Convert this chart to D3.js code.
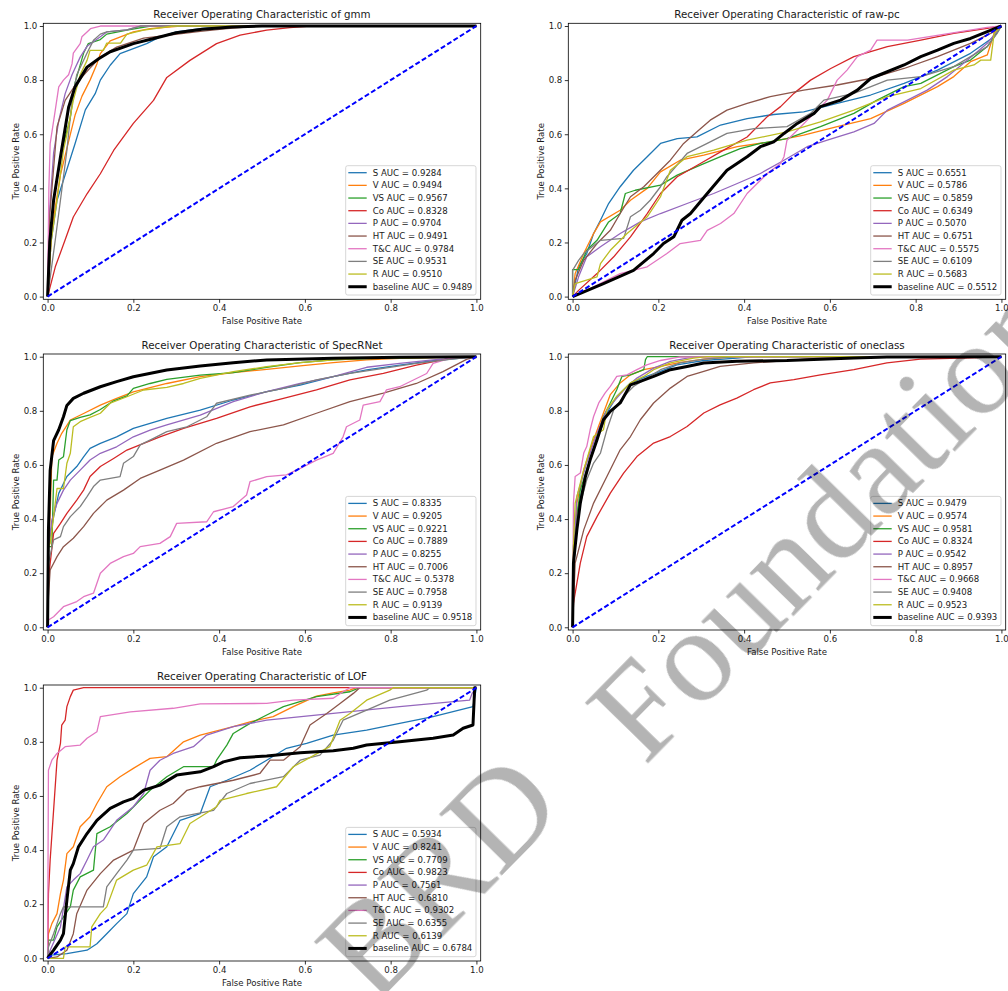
<!doctype html>
<html lang="en">
<head>
  <meta charset="utf-8">
  <title>ROC curves</title>
  <script src="https://cdnjs.cloudflare.com/ajax/libs/d3/7.8.5/d3.min.js"></script>
  <style>
    body{margin:0;background:#fff}
    svg text{font-family:"DejaVu Sans",sans-serif;fill:#1a1a1a}
    .wm text{font-family:"Liberation Serif",serif;fill:#b4b4b4}
  </style>
</head>
<body>
<svg id="fig" width="1008" height="991"></svg>
<script>
// ---- data ----
var classes = ["S", "V", "VS", "Co", "P", "HT", "T&C", "SE", "R", "baseline"];
var colors = ["#1f77b4", "#ff7f0e", "#2ca02c", "#d62728", "#9467bd", "#8c564b", "#e377c2", "#7f7f7f", "#bcbd22", "#000000"];
var models = ["gmm", "raw-pc", "SpecRNet", "oneclass", "LOF"];
var ticks = [0, 0.2, 0.4, 0.6, 0.8, 1.0];
var diagonal = [[0, 0], [1, 1]];

var aucGmm = ["0.9284", "0.9494", "0.9567", "0.8328", "0.9704", "0.9491", "0.9784", "0.9531", "0.9510", "0.9489"];
var aucRawpc = ["0.6551", "0.5786", "0.5859", "0.6349", "0.5070", "0.6751", "0.5575", "0.6109", "0.5683", "0.5512"];
var aucSpec = ["0.8335", "0.9205", "0.9221", "0.7889", "0.8255", "0.7006", "0.5378", "0.7958", "0.9139", "0.9518"];
var aucOneclass = ["0.9479", "0.9574", "0.9581", "0.8324", "0.9542", "0.8957", "0.9668", "0.9408", "0.9523", "0.9393"];
var aucLof = ["0.5934", "0.8241", "0.7709", "0.9823", "0.7561", "0.6810", "0.9302", "0.6355", "0.6139", "0.6784"];

// [fpr, tpr] per class, same order as classes
var rocGmm = [
  [[0,0],[0.008,0.2],[0.022,0.356],[0.049,0.49],[0.064,0.565],[0.088,0.69],[0.111,0.75],[0.123,0.8],[0.146,0.855],[0.169,0.898],[0.231,0.935],[0.262,0.96],[0.3,0.978],[0.356,0.99],[0.433,1],[1,1]],
  [[0,0],[0.01,0.25],[0.03,0.45],[0.05,0.58],[0.064,0.67],[0.08,0.74],[0.099,0.8],[0.115,0.86],[0.123,0.898],[0.146,0.945],[0.17,0.96],[0.2,0.978],[0.239,0.99],[0.31,1],[1,1]],
  [[0,0],[0.005,0.2],[0.014,0.356],[0.033,0.54],[0.053,0.66],[0.064,0.79],[0.084,0.9],[0.095,0.935],[0.123,0.95],[0.138,0.97],[0.185,0.985],[0.24,1],[1,1]],
  [[0,0],[0.018,0.11],[0.041,0.21],[0.06,0.294],[0.092,0.38],[0.123,0.454],[0.154,0.54],[0.2,0.64],[0.247,0.725],[0.278,0.81],[0.332,0.873],[0.394,0.935],[0.449,0.966],[0.511,0.985],[0.565,0.994],[0.612,1],[1,1]],
  [[0,0],[0.004,0.3],[0.014,0.53],[0.026,0.65],[0.041,0.75],[0.057,0.82],[0.076,0.885],[0.092,0.925],[0.123,0.96],[0.138,0.978],[0.185,0.986],[0.216,1],[1,1]],
  [[0,0],[0.005,0.3],[0.022,0.627],[0.041,0.725],[0.068,0.79],[0.099,0.845],[0.123,0.885],[0.161,0.922],[0.224,0.955],[0.293,0.968],[0.356,0.98],[0.418,0.99],[0.495,1],[1,1]],
  [[0,0],[0.003,0.4],[0.006,0.565],[0.018,0.69],[0.026,0.775],[0.037,0.8],[0.049,0.82],[0.057,0.86],[0.06,0.9],[0.076,0.935],[0.08,0.96],[0.092,0.978],[0.1,0.99],[0.123,1],[1,1]],
  [[0,0],[0.018,0.21],[0.03,0.356],[0.045,0.54],[0.057,0.725],[0.068,0.82],[0.092,0.9],[0.107,0.947],[0.123,0.97],[0.138,0.978],[0.185,0.986],[0.216,1],[1,1]],
  [[0,0],[0.008,0.2],[0.022,0.356],[0.037,0.54],[0.045,0.6],[0.06,0.725],[0.076,0.82],[0.092,0.873],[0.099,0.91],[0.13,0.91],[0.138,0.937],[0.17,0.937],[0.185,0.97],[0.224,0.985],[0.293,1],[1,1]],
  [[0,0],[0.005,0.2],[0.014,0.356],[0.03,0.516],[0.049,0.7],[0.064,0.775],[0.092,0.848],[0.12,0.88],[0.146,0.905],[0.2,0.935],[0.25,0.955],[0.3,0.975],[0.36,0.988],[0.43,0.996],[0.5,1],[1,1]]
];

var rocRawpc = [
  [[0,0],[0.014,0.11],[0.033,0.159],[0.049,0.233],[0.065,0.282],[0.084,0.344],[0.111,0.406],[0.142,0.467],[0.174,0.517],[0.205,0.566],[0.244,0.584],[0.29,0.59],[0.345,0.634],[0.407,0.658],[0.469,0.673],[0.539,0.683],[0.617,0.714],[0.695,0.745],[0.773,0.788],[0.851,0.837],[0.928,0.899],[0.983,0.96],[1,1]],
  [[0,0],[0.006,0.085],[0.026,0.159],[0.049,0.233],[0.065,0.276],[0.111,0.319],[0.135,0.356],[0.174,0.4],[0.205,0.461],[0.251,0.504],[0.306,0.523],[0.384,0.554],[0.461,0.572],[0.539,0.597],[0.617,0.628],[0.695,0.658],[0.773,0.714],[0.851,0.776],[0.889,0.813],[0.928,0.868],[0.967,0.893],[0.983,0.973],[1,1]],
  [[0,0],[0,0.1],[0.014,0.1],[0.033,0.171],[0.057,0.208],[0.084,0.276],[0.111,0.307],[0.123,0.381],[0.146,0.393],[0.205,0.412],[0.244,0.449],[0.298,0.486],[0.345,0.517],[0.391,0.547],[0.438,0.566],[0.5,0.584],[0.578,0.628],[0.656,0.677],[0.71,0.726],[0.773,0.776],[0.812,0.788],[0.889,0.85],[0.928,0.874],[0.967,0.924],[1,1]],
  [[0,0],[0.014,0.023],[0.057,0.085],[0.096,0.147],[0.135,0.221],[0.174,0.307],[0.205,0.381],[0.244,0.443],[0.298,0.492],[0.345,0.535],[0.407,0.59],[0.454,0.665],[0.485,0.702],[0.516,0.751],[0.555,0.8],[0.602,0.843],[0.656,0.887],[0.734,0.924],[0.812,0.948],[0.889,0.973],[0.967,0.991],[1,1]],
  [[0,0],[0.014,0.073],[0.033,0.147],[0.065,0.184],[0.111,0.233],[0.158,0.276],[0.205,0.307],[0.267,0.344],[0.329,0.381],[0.384,0.418],[0.438,0.455],[0.493,0.504],[0.547,0.554],[0.594,0.578],[0.656,0.609],[0.703,0.64],[0.734,0.689],[0.781,0.726],[0.827,0.763],[0.874,0.813],[0.921,0.874],[0.967,0.936],[1,1]],
  [[0,0],[0.006,0.06],[0.026,0.134],[0.057,0.196],[0.088,0.245],[0.111,0.307],[0.135,0.369],[0.166,0.406],[0.197,0.455],[0.228,0.504],[0.259,0.566],[0.29,0.609],[0.321,0.652],[0.36,0.689],[0.407,0.714],[0.461,0.739],[0.539,0.763],[0.617,0.782],[0.695,0.806],[0.773,0.843],[0.851,0.887],[0.928,0.936],[0.983,0.979],[1,1]],
  [[0,0],[0.033,0.023],[0.111,0.085],[0.174,0.11],[0.22,0.159],[0.251,0.196],[0.298,0.208],[0.314,0.245],[0.345,0.27],[0.376,0.307],[0.407,0.381],[0.454,0.455],[0.485,0.492],[0.493,0.517],[0.5,0.578],[0.524,0.615],[0.563,0.677],[0.594,0.726],[0.617,0.8],[0.64,0.837],[0.664,0.887],[0.695,0.911],[0.71,0.948],[0.781,0.948],[0.905,0.979],[0.967,0.995],[1,1]],
  [[0,0],[0,0.097],[0.014,0.134],[0.026,0.159],[0.065,0.208],[0.119,0.215],[0.135,0.295],[0.158,0.319],[0.181,0.356],[0.205,0.406],[0.22,0.443],[0.267,0.529],[0.314,0.566],[0.36,0.603],[0.423,0.621],[0.5,0.628],[0.555,0.677],[0.586,0.726],[0.656,0.751],[0.734,0.8],[0.812,0.813],[0.889,0.85],[0.967,0.924],[0.99,0.973],[1,1]],
  [[0,0],[0.006,0.048],[0.057,0.073],[0.065,0.122],[0.088,0.171],[0.127,0.233],[0.174,0.295],[0.205,0.369],[0.228,0.467],[0.267,0.517],[0.329,0.541],[0.407,0.578],[0.5,0.609],[0.578,0.646],[0.656,0.689],[0.734,0.739],[0.812,0.769],[0.889,0.837],[0.936,0.856],[0.952,0.874],[0.975,0.874],[0.983,0.973],[1,1]],
  [[0,0],[0.072,0.048],[0.142,0.097],[0.189,0.159],[0.212,0.196],[0.236,0.221],[0.255,0.282],[0.275,0.307],[0.314,0.381],[0.36,0.467],[0.407,0.517],[0.438,0.554],[0.469,0.572],[0.493,0.603],[0.524,0.64],[0.563,0.677],[0.578,0.702],[0.625,0.726],[0.664,0.763],[0.695,0.806],[0.734,0.831],[0.773,0.856],[0.812,0.887],[0.851,0.911],[0.889,0.936],[0.928,0.954],[0.967,0.979],[1,1]]
];

var rocSpec = [
  [[0,0],[0.002,0.3],[0.006,0.335],[0.014,0.409],[0.026,0.495],[0.045,0.557],[0.068,0.594],[0.084,0.63],[0.099,0.661],[0.123,0.68],[0.161,0.704],[0.2,0.735],[0.239,0.754],[0.278,0.772],[0.356,0.803],[0.433,0.84],[0.511,0.871],[0.589,0.895],[0.666,0.926],[0.744,0.951],[0.821,0.969],[0.899,0.985],[1,1]],
  [[0,0],[0.002,0.3],[0.006,0.42],[0.01,0.63],[0.022,0.68],[0.033,0.717],[0.053,0.766],[0.084,0.79],[0.123,0.821],[0.161,0.846],[0.2,0.87],[0.278,0.901],[0.356,0.926],[0.433,0.941],[0.511,0.953],[0.589,0.966],[0.666,0.978],[0.744,0.988],[0.821,0.994],[1,1]],
  [[0,0],[0.002,0.298],[0.01,0.298],[0.014,0.544],[0.022,0.544],[0.026,0.618],[0.037,0.63],[0.045,0.73],[0.053,0.764],[0.076,0.776],[0.099,0.785],[0.123,0.805],[0.154,0.837],[0.185,0.855],[0.2,0.883],[0.239,0.901],[0.278,0.916],[0.356,0.932],[0.433,0.941],[0.511,0.961],[0.589,0.978],[0.666,0.988],[0.744,0.993],[1,1]],
  [[0,0],[0.002,0.175],[0.006,0.236],[0.014,0.347],[0.03,0.384],[0.045,0.421],[0.068,0.47],[0.084,0.507],[0.099,0.557],[0.123,0.594],[0.154,0.624],[0.185,0.655],[0.224,0.68],[0.262,0.704],[0.317,0.735],[0.394,0.772],[0.472,0.815],[0.55,0.846],[0.627,0.877],[0.705,0.914],[0.783,0.938],[0.86,0.969],[0.938,0.994],[1,1]],
  [[0,0],[0.002,0.3],[0.01,0.397],[0.022,0.458],[0.037,0.507],[0.053,0.544],[0.076,0.581],[0.099,0.618],[0.123,0.643],[0.161,0.667],[0.2,0.704],[0.239,0.729],[0.278,0.748],[0.356,0.784],[0.433,0.834],[0.511,0.871],[0.589,0.901],[0.666,0.926],[0.744,0.961],[0.821,0.975],[0.899,0.988],[1,1]],
  [[0,0],[0.002,0.113],[0.006,0.212],[0.022,0.261],[0.037,0.298],[0.06,0.329],[0.084,0.372],[0.107,0.421],[0.138,0.47],[0.177,0.507],[0.216,0.55],[0.262,0.581],[0.317,0.618],[0.394,0.68],[0.472,0.723],[0.55,0.748],[0.627,0.791],[0.705,0.834],[0.783,0.865],[0.86,0.901],[0.922,0.945],[0.977,0.99],[1,1]],
  [[0,0],[0.002,0.027],[0.014,0.039],[0.037,0.076],[0.068,0.095],[0.084,0.113],[0.107,0.126],[0.123,0.2],[0.146,0.236],[0.177,0.261],[0.2,0.273],[0.216,0.298],[0.262,0.31],[0.286,0.335],[0.301,0.384],[0.371,0.39],[0.387,0.427],[0.433,0.446],[0.464,0.489],[0.472,0.538],[0.511,0.557],[0.557,0.563],[0.589,0.587],[0.627,0.618],[0.666,0.643],[0.689,0.704],[0.697,0.741],[0.728,0.766],[0.736,0.821],[0.775,0.834],[0.79,0.877],[0.821,0.889],[0.884,0.938],[0.899,0.975],[0.938,0.994],[1,1]],
  [[0,0],[0.002,0.236],[0.014,0.323],[0.03,0.335],[0.037,0.372],[0.053,0.409],[0.076,0.446],[0.092,0.483],[0.107,0.52],[0.123,0.544],[0.169,0.557],[0.177,0.606],[0.2,0.631],[0.216,0.674],[0.247,0.698],[0.278,0.723],[0.325,0.741],[0.371,0.778],[0.394,0.828],[0.472,0.858],[0.55,0.883],[0.627,0.914],[0.705,0.938],[0.783,0.957],[0.86,0.975],[0.938,0.99],[1,1]],
  [[0,0],[0.002,0.3],[0.006,0.31],[0.014,0.409],[0.022,0.513],[0.037,0.513],[0.045,0.606],[0.053,0.643],[0.06,0.741],[0.076,0.76],[0.099,0.776],[0.123,0.791],[0.146,0.828],[0.185,0.852],[0.224,0.877],[0.278,0.887],[0.317,0.901],[0.356,0.92],[0.433,0.945],[0.511,0.963],[0.589,0.978],[0.666,0.988],[0.744,0.994],[1,1]],
  [[0,0],[0.002,0.36],[0.006,0.58],[0.014,0.69],[0.026,0.73],[0.037,0.778],[0.045,0.82],[0.06,0.846],[0.084,0.865],[0.123,0.889],[0.161,0.908],[0.2,0.926],[0.278,0.951],[0.356,0.966],[0.433,0.978],[0.511,0.988],[0.666,0.994],[0.821,0.998],[1,1]]
];

var rocOneclass = [
  [[0,0],[0.002,0.2],[0.01,0.42],[0.033,0.582],[0.057,0.693],[0.08,0.792],[0.103,0.853],[0.135,0.903],[0.173,0.927],[0.205,0.946],[0.243,0.97],[0.306,0.986],[0.383,0.995],[0.422,1],[1,1]],
  [[0,0],[0.002,0.2],[0.01,0.459],[0.026,0.582],[0.049,0.693],[0.072,0.792],[0.088,0.86],[0.111,0.903],[0.135,0.933],[0.166,0.952],[0.205,0.964],[0.251,0.979],[0.306,0.991],[0.36,0.998],[0.407,1],[1,1]],
  [[0,0],[0.002,0.3],[0.006,0.36],[0.018,0.508],[0.033,0.582],[0.057,0.705],[0.072,0.779],[0.088,0.829],[0.103,0.878],[0.115,0.927],[0.135,0.933],[0.166,0.952],[0.17,0.989],[0.174,1],[1,1]],
  [[0,0],[0.002,0.089],[0.018,0.237],[0.033,0.335],[0.057,0.409],[0.088,0.496],[0.119,0.57],[0.15,0.631],[0.189,0.681],[0.228,0.705],[0.267,0.742],[0.306,0.792],[0.344,0.822],[0.383,0.847],[0.422,0.878],[0.461,0.903],[0.516,0.915],[0.578,0.933],[0.656,0.952],[0.733,0.977],[0.811,0.991],[0.928,0.996],[1,1]],
  [[0,0],[0.002,0.25],[0.01,0.483],[0.033,0.607],[0.057,0.718],[0.08,0.804],[0.103,0.847],[0.127,0.89],[0.15,0.921],[0.189,0.958],[0.228,0.983],[0.267,0.995],[0.306,1],[1,1]],
  [[0,0],[0.006,0.237],[0.026,0.36],[0.049,0.459],[0.08,0.557],[0.111,0.656],[0.135,0.705],[0.158,0.767],[0.189,0.829],[0.228,0.884],[0.267,0.927],[0.306,0.946],[0.344,0.964],[0.422,0.977],[0.5,0.986],[0.578,0.995],[0.656,1],[1,1]],
  [[0,0],[0.002,0.459],[0.006,0.557],[0.018,0.57],[0.026,0.644],[0.033,0.668],[0.041,0.73],[0.049,0.779],[0.061,0.829],[0.076,0.866],[0.088,0.89],[0.103,0.927],[0.127,0.933],[0.15,0.952],[0.173,0.97],[0.205,0.986],[0.251,0.999],[1,1]],
  [[0,0],[0.002,0.2],[0.01,0.409],[0.033,0.545],[0.049,0.607],[0.065,0.644],[0.08,0.73],[0.096,0.804],[0.119,0.853],[0.142,0.89],[0.173,0.921],[0.205,0.952],[0.251,0.977],[0.306,0.991],[0.383,1],[1,1]],
  [[0,0],[0.002,0.3],[0.006,0.459],[0.026,0.582],[0.049,0.705],[0.072,0.73],[0.08,0.804],[0.103,0.853],[0.135,0.903],[0.166,0.927],[0.189,0.952],[0.228,0.977],[0.282,0.995],[0.313,1],[1,1]],
  [[0,0],[0.002,0.237],[0.01,0.36],[0.018,0.459],[0.03,0.557],[0.041,0.619],[0.057,0.693],[0.072,0.767],[0.088,0.798],[0.111,0.829],[0.135,0.896],[0.158,0.909],[0.189,0.927],[0.228,0.952],[0.267,0.964],[0.306,0.977],[0.383,0.983],[0.5,0.986],[0.578,0.991],[0.656,0.995],[0.733,0.999],[1,1]]
];

var rocLof = [
  [[0,0],[0.002,0.011],[0.045,0.017],[0.092,0.03],[0.115,0.054],[0.138,0.091],[0.161,0.128],[0.185,0.165],[0.2,0.239],[0.231,0.301],[0.247,0.375],[0.278,0.412],[0.309,0.51],[0.356,0.535],[0.379,0.634],[0.418,0.658],[0.472,0.695],[0.511,0.732],[0.557,0.776],[0.604,0.794],[0.666,0.825],[0.744,0.843],[0.821,0.868],[0.899,0.893],[0.992,0.93],[1,1]],
  [[0,0],[0.002,0.091],[0.01,0.128],[0.022,0.165],[0.03,0.239],[0.037,0.289],[0.045,0.387],[0.06,0.412],[0.076,0.486],[0.099,0.523],[0.115,0.572],[0.138,0.634],[0.169,0.671],[0.2,0.702],[0.239,0.739],[0.278,0.745],[0.317,0.8],[0.356,0.825],[0.433,0.856],[0.472,0.874],[0.526,0.893],[0.573,0.93],[0.627,0.969],[0.666,0.981],[0.705,0.991],[0.72,1],[1,1]],
  [[0,0],[0.002,0.067],[0.014,0.067],[0.022,0.116],[0.037,0.153],[0.053,0.19],[0.06,0.252],[0.076,0.301],[0.107,0.326],[0.115,0.461],[0.146,0.486],[0.185,0.535],[0.208,0.572],[0.239,0.621],[0.278,0.671],[0.317,0.708],[0.387,0.708],[0.394,0.732],[0.418,0.788],[0.433,0.831],[0.472,0.868],[0.511,0.899],[0.55,0.93],[0.627,0.967],[0.705,0.985],[0.728,1],[1,1]],
  [[0,0],[0.002,0.239],[0.006,0.363],[0.014,0.547],[0.022,0.732],[0.03,0.794],[0.033,0.862],[0.041,0.88],[0.045,0.93],[0.053,0.967],[0.06,0.991],[0.084,1],[1,1]],
  [[0,0],[0.006,0.03],[0.03,0.116],[0.045,0.264],[0.06,0.289],[0.076,0.313],[0.092,0.363],[0.107,0.412],[0.13,0.437],[0.161,0.51],[0.2,0.56],[0.224,0.609],[0.239,0.695],[0.262,0.732],[0.293,0.757],[0.34,0.782],[0.371,0.825],[0.433,0.856],[0.511,0.88],[0.666,0.905],[0.821,0.93],[0.984,0.954],[0.99,0.979],[1,1]],
  [[0,0],[0.022,0.005],[0.045,0.03],[0.06,0.091],[0.068,0.165],[0.092,0.252],[0.123,0.313],[0.154,0.363],[0.2,0.4],[0.224,0.498],[0.262,0.547],[0.293,0.572],[0.325,0.621],[0.356,0.634],[0.433,0.658],[0.495,0.683],[0.519,0.732],[0.55,0.732],[0.589,0.782],[0.612,0.862],[0.651,0.905],[0.682,0.942],[0.713,0.979],[0.728,1],[1,1]],
  [[0,0],[0.002,0.695],[0.01,0.732],[0.022,0.757],[0.041,0.782],[0.076,0.788],[0.092,0.813],[0.115,0.837],[0.123,0.893],[0.193,0.911],[0.293,0.924],[0.356,0.94],[0.511,0.942],[0.573,0.954],[0.666,0.961],[0.689,0.985],[0.705,1],[1,1]],
  [[0,0],[0.002,0.042],[0.014,0.091],[0.03,0.165],[0.037,0.19],[0.13,0.19],[0.138,0.264],[0.161,0.313],[0.185,0.363],[0.2,0.4],[0.262,0.406],[0.278,0.486],[0.309,0.523],[0.387,0.547],[0.418,0.609],[0.472,0.646],[0.55,0.671],[0.589,0.732],[0.635,0.751],[0.666,0.806],[0.689,0.88],[0.744,0.917],[0.798,0.954],[0.884,0.991],[0.891,1],[1,1]],
  [[0,0],[0.037,0],[0.041,0.042],[0.099,0.042],[0.103,0.116],[0.123,0.165],[0.138,0.19],[0.161,0.289],[0.2,0.326],[0.231,0.344],[0.255,0.412],[0.309,0.424],[0.332,0.498],[0.394,0.56],[0.402,0.584],[0.464,0.609],[0.534,0.634],[0.573,0.708],[0.658,0.782],[0.682,0.88],[0.705,0.905],[0.744,0.954],[0.798,0.991],[0.806,1],[1,1]],
  [[0,0],[0.002,0.005],[0.014,0.03],[0.03,0.067],[0.037,0.091],[0.045,0.215],[0.053,0.326],[0.06,0.35],[0.072,0.412],[0.092,0.461],[0.115,0.51],[0.146,0.554],[0.177,0.578],[0.2,0.591],[0.224,0.621],[0.262,0.64],[0.301,0.677],[0.356,0.689],[0.387,0.708],[0.41,0.726],[0.449,0.741],[0.511,0.748],[0.589,0.76],[0.666,0.767],[0.713,0.776],[0.744,0.788],[0.821,0.8],[0.899,0.813],[0.946,0.825],[0.969,0.85],[0.992,0.862],[0.996,1],[1,1]]
];

// ---- layout ----
var W = 437.4, H = 276;
var panels = [
  {name: models[0], roc: rocGmm, auc: aucGmm, left: 43.3, top: 23.3},
  {name: models[1], roc: rocRawpc, auc: aucRawpc, left: 568.3, top: 23.3},
  {name: models[2], roc: rocSpec, auc: aucSpec, left: 43.3, top: 354},
  {name: models[3], roc: rocOneclass, auc: aucOneclass, left: 568.3, top: 354},
  {name: models[4], roc: rocLof, auc: aucLof, left: 43.3, top: 685}
];

var svg = d3.select("#fig");
svg.append("rect").attr("width", 1008).attr("height", 991).attr("fill", "#fff");

var x = d3.scaleLinear().domain([-0.01, 1.01]).range([0, W]);
var y = d3.scaleLinear().domain([-0.01, 1.01]).range([H, 0]);
var line = d3.line().x(function (d) { return x(d[0]); }).y(function (d) { return y(d[1]); });
var fmt = d3.format(".1f");

panels.forEach(function (p, k) {
  var g = svg.append("g").attr("transform", "translate(" + p.left + "," + p.top + ")");
  g.append("clipPath").attr("id", "clip" + k).append("rect").attr("width", W).attr("height", H);
  var plot = g.append("g").attr("clip-path", "url(#clip" + k + ")");

  p.roc.forEach(function (pts, i) {
    plot.append("path")
      .attr("d", line(pts))
      .attr("fill", "none")
      .attr("stroke", colors[i])
      .attr("stroke-width", i === 9 ? 3 : 1.3)
      .attr("stroke-linejoin", "round");
  });
  plot.append("path")
    .attr("d", line(diagonal))
    .attr("fill", "none")
    .attr("stroke", "#0000ff")
    .attr("stroke-width", 2)
    .attr("stroke-dasharray", "5,2.5");

  // axes
  var xa = g.append("g").attr("transform", "translate(0," + H + ")")
    .call(d3.axisBottom(x).tickValues(ticks).tickFormat(fmt).tickSize(3.5).tickPadding(2.5));
  var ya = g.append("g")
    .call(d3.axisLeft(y).tickValues(ticks).tickFormat(fmt).tickSize(3.5).tickPadding(2.5));
  [xa, ya].forEach(function (a) {
    a.select(".domain").remove();
    a.attr("font-family", null).attr("font-size", null);
    a.selectAll("line").attr("stroke", "#000").attr("stroke-width", 0.8);
    a.selectAll("text").style("font-size", "8.6px");
  });

  g.append("rect").attr("width", W).attr("height", H)
    .attr("fill", "none").attr("stroke", "#000").attr("stroke-width", 0.8);

  g.append("text").attr("x", W / 2).attr("y", -5).attr("text-anchor", "middle")
    .style("font-size", "10.3px").text("Receiver Operating Characteristic of " + p.name);
  g.append("text").attr("x", W / 2).attr("y", H + 25).attr("text-anchor", "middle")
    .style("font-size", "8.6px").text("False Positive Rate");
  g.append("text").attr("transform", "translate(-24.5," + (H / 2) + ") rotate(-90)")
    .attr("text-anchor", "middle").style("font-size", "8.6px").text("True Positive Rate");

  // legend
  var lw = 130.3, lh = 129.3;
  var lg = g.append("g").attr("transform", "translate(" + (W - 4.7 - lw) + "," + (H - 4.3 - lh) + ")");
  lg.append("rect").attr("width", lw).attr("height", lh).attr("rx", 2)
    .attr("fill", "#fff").attr("fill-opacity", 0.8).attr("stroke", "#cccccc").attr("stroke-width", 0.8);
  classes.forEach(function (c, i) {
    var cy = 7 + i * 12.67;
    lg.append("line").attr("x1", 2.6).attr("x2", 21).attr("y1", cy).attr("y2", cy)
      .attr("stroke", colors[i]).attr("stroke-width", i === 9 ? 3 : 1.3);
    lg.append("text").attr("x", 27).attr("y", cy).attr("dy", "0.35em")
      .style("font-size", "8.6px").text(c + " AUC = " + p.auc[i]);
  });
});

// watermark
var wm = svg.append("g").attr("class", "wm").style("mix-blend-mode", "multiply");
wm.append("text").attr("transform", "translate(374,1006) rotate(-45.6)")
  .style("font-size", "134px").text("BRD");
wm.append("text").attr("transform", "translate(645,767) rotate(-45.6)")
  .style("font-size", "134px").text("Foundation");
</script>
</body>
</html>
